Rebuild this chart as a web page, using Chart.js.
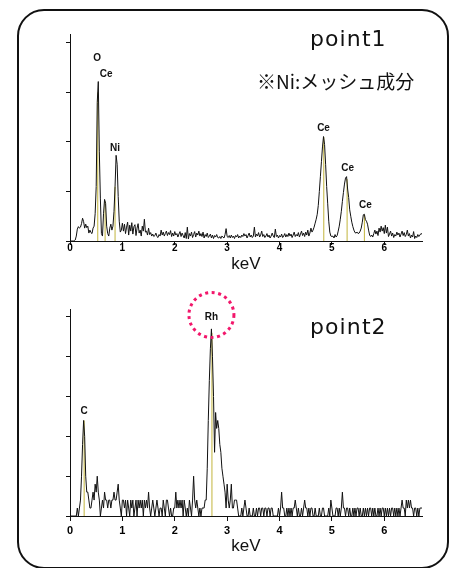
<!DOCTYPE html>
<html>
<head>
<meta charset="utf-8">
<script src="https://cdn.jsdelivr.net/npm/chart.js@4.4.1/dist/chart.umd.min.js"></script>
<style>
  html, body { margin: 0; padding: 0; background: #fff; }
  body { width: 454px; height: 568px; position: relative; overflow: hidden; }
  .frame { position: absolute; left: 17px; top: 9px; width: 432px; height: 560px;
           box-sizing: border-box; border: 2px solid #111; border-radius: 27px; }
  canvas { position: absolute; left: 0; }
  #c1 { top: 0; }
  #c2 { top: 280px; }
</style>
</head>
<body>
<div class="frame"></div>
<canvas id="c1" width="454" height="280"></canvas>
<canvas id="c2" width="454" height="288"></canvas>
<script>
// EDS spectra, one value per 0.02 keV channel
const energyStep = 0.02
const xMax = 6.72
const xTicks = [0, 1, 2, 3, 4, 5, 6]

// point1
const counts1 = [
  0, 0, 0, 0, 0, 0.2, 1.0, 2.4, 2.9, 2.6,
  2.8, 3.5, 4.6, 3.9, 2.6, 3.4, 2.7, 3.0, 1.6, 2.2,
  1.7, 1.5, 2.6, 3.0, 5.5, 11.0, 28.0, 32.2, 18.0, 8.5,
  1.5, 1.0, 5.5, 8.4, 7.6, 3.0, 1.5, 1.0, 2.6, 3.4,
  2.2, 3.0, 6.0, 11.0, 17.3, 15.5, 9.0, 4.0, 1.8, 2.2,
  3.6, 2.0, 3.4, 1.5, 2.8, 3.8, 1.2, 3.2, 2.0, 3.7,
  1.4, 2.9, 3.3, 1.1, 2.6, 3.5, 1.6, 2.2, 1.0, 3.0,
  2.0, 4.4, 1.8, 2.0, 1.2, 2.6, 1.3, 1.7, 1.0, 1.4,
  0.9, 1.1, 1.6, 0.9, 0.7, 1.3, 1.0, 2.2, 1.2, 1.8,
  1.0, 1.5, 2.0, 1.1, 1.7, 1.3, 2.1, 0.9, 1.6, 1.0,
  1.9, 1.2, 1.5, 0.8, 1.4, 1.9, 0.9, 1.6, 1.1, 0.6,
  1.7, 0.5, 2.8, 0.4, 1.5, 1.0, 1.8, 0.7, 1.3, 1.9,
  0.8, 1.6, 1.2, 2.0, 1.0, 1.5, 0.9, 1.8, 0.6, 1.3,
  0.9, 1.6, 0.7, 1.0, 1.4, 0.6, 1.2, 0.5, 1.1, 0.8,
  1.3, 0.7, 0.6, 0.9, 0.5, 1.0, 0.8, 0.6, 1.3, 2.5,
  0.9, 0.7, 1.1, 0.6, 1.2, 0.7, 1.0, 0.5, 1.1, 0.8,
  1.3, 0.6, 1.0, 0.7, 1.2, 0.9, 1.5, 1.0, 1.3, 0.6,
  1.1, 1.6, 0.8, 1.2, 0.7, 1.0, 2.8, 0.8, 1.4, 1.0,
  1.7, 0.8, 1.2, 2.0, 0.9, 1.3, 0.7, 1.0, 1.5, 0.8,
  1.2, 0.6, 1.0, 1.6, 1.0, 0.7, 2.4, 0.9, 1.2, 0.6,
  1.1, 0.8, 1.4, 0.7, 1.0, 1.5, 0.8, 1.3, 0.9, 1.6,
  1.0, 1.4, 0.7, 1.2, 1.8, 0.9, 1.3, 1.0, 1.7, 0.8,
  1.4, 2.0, 1.1, 1.6, 0.9, 1.8, 1.2, 2.2, 1.0, 1.6,
  2.6, 1.8, 2.2, 2.8, 3.6, 4.4, 5.4, 7.2, 10.0, 13.0,
  16.0, 19.0, 21.1, 19.5, 15.5, 11.0, 7.5, 4.0, 1.8, 1.0,
  0.9, 1.0, 0.6, 1.3, 0.8, 1.1, 2.0, 3.0, 4.4, 6.0,
  8.0, 9.8, 11.5, 12.7, 13.0, 10.5, 8.8, 6.3, 5.0, 3.8,
  2.9, 2.2, 1.7, 1.6, 1.8, 1.5, 1.6, 2.0, 2.6, 3.8,
  5.3, 5.4, 4.3, 4.0, 3.4, 2.2, 1.2, 0.9, 1.2, 0.8,
  1.5, 2.2, 1.4, 2.0, 1.1, 2.6, 1.8, 3.0, 2.0, 2.7,
  1.5, 3.2, 1.6, 2.8, 0.9, 1.4, 2.0, 1.0, 1.6, 0.7,
  1.3, 1.0, 1.8, 1.2, 1.6, 0.8, 1.4, 2.0, 1.1, 1.7,
  0.9, 1.3, 2.2, 1.0, 1.5, 0.6, 1.2, 0.8, 1.9, 0.5,
  1.0, 0.7, 1.3, 0.9, 1.2, 1.5, 1.4
]
const yMax1 = 41.8
const yTicks1 = [0, 10, 20, 30, 40]
const markerEnergy1 = [0.53, 0.67, 0.86, 4.845, 5.29, 5.62]
const markerHeight1 = [30.0, 8.0, 11.0, 21.0, 12.5, 5.3]
const peakText1 = ['O', 'Ce', 'Ni', 'Ce', 'Ce', 'Ce']
const peakEnergy1 = [0.52, 0.69, 0.86, 4.84, 5.30, 5.64]
const peakLevel1 = [37.0, 33.7, 18.8, 22.8, 14.7, 7.3]

// point2
const counts2 = [
  0, 0, 0, 0, 0, 0, 0, 1, 0, 1,
  2, 5, 9, 12, 10, 5, 3, 3, 2, 1,
  1, 2, 3, 2, 4, 3, 5, 3, 2, 0,
  1, 2, 1, 3, 2, 2, 1, 2, 2, 1,
  2, 2, 3, 2, 2, 3, 4, 2, 1, 0,
  2, 2, 1, 2, 0, 2, 1, 0, 2, 1,
  2, 0, 1, 2, 0, 2, 1, 2, 1, 2,
  0, 2, 1, 2, 1, 3, 1, 0, 1, 2,
  1, 0, 1, 2, 1, 0, 1, 1, 0, 2,
  1, 0, 2, 2, 1, 0, 1, 0, 0, 1,
  1, 3, 1, 2, 1, 2, 1, 2, 0, 2,
  1, 0, 1, 0, 2, 1, 0, 2, 5, 2,
  1, 2, 1, 0, 1, 0, 1, 1, 1, 2,
  2, 6, 12, 17, 21, 23.5, 20, 15, 8, 13,
  11, 12, 11, 9, 8, 6, 5, 4, 3, 1,
  4, 2, 1, 2, 4, 1, 1, 2, 2, 2,
  1, 0, 0, 0, 1, 0, 1, 2, 1, 0,
  0, 1, 0, 0, 0, 1, 0, 0, 1, 0,
  1, 1, 0, 1, 1, 0, 1, 1, 0, 1,
  1, 0, 1, 1, 0, 0, 0, 0, 0, 1,
  0, 1, 3, 1, 1, 0, 0, 1, 0, 1,
  0, 1, 0, 1, 1, 2, 1, 0, 1, 0,
  0, 1, 0, 1, 2, 1, 1, 0, 1, 0,
  1, 1, 0, 0, 1, 0, 0, 0, 1, 0,
  0, 1, 1, 0, 0, 0, 0, 1, 0, 2,
  1, 0, 0, 0, 1, 1, 0, 1, 0, 1,
  3, 1, 1, 0, 1, 1, 0, 1, 0, 0,
  1, 0, 1, 0, 1, 1, 0, 1, 0, 0,
  1, 0, 1, 0, 1, 0, 1, 1, 0, 1,
  0, 1, 0, 0, 1, 0, 1, 0, 1, 1,
  0, 1, 0, 1, 0, 1, 0, 1, 1, 0,
  1, 0, 1, 0, 1, 0, 1, 2, 1, 1,
  0, 2, 1, 2, 1, 2, 1, 1, 0, 1,
  1, 0, 1, 0, 1, 1, 1
]
const yMax2 = 26
const yTicks2 = [0, 5, 10, 15, 20, 25]
const markerEnergy2 = [0.27, 2.71]
const markerHeight2 = [12, 23.0]
const peakText2 = ['C', 'Rh']
const peakEnergy2 = [0.27, 2.70]
const peakLevel2 = [13.1, 25.0]

const FONT = '"Liberation Sans", Arial, sans-serif'

function channelPoints(values) {
  return values.map((v, i) => ({ x: i * energyStep, y: v }))
}

function markerPoints(energies, heights) {
  const pts = []
  energies.forEach((e, i) => {
    pts.push({ x: e, y: 0 }, { x: e, y: heights[i] }, { x: e, y: null })
  })
  return pts
}

// peak names, dashed ring and free text drawn on top of the plot
function overlay(spec) {
  return {
    id: 'overlay',
    afterDatasetsDraw(chart) {
      const { ctx, scales: { x, y } } = chart
      ctx.save()
      ctx.fillStyle = '#111'
      ctx.font = 'bold 10px ' + FONT
      ctx.textAlign = 'center'
      ctx.textBaseline = 'middle'
      spec.peakText.forEach((t, i) => {
        ctx.fillText(t, x.getPixelForValue(spec.peakEnergy[i]), y.getPixelForValue(spec.peakLevel[i]))
      })
      if (spec.ring) {
        const i = spec.ring.index
        ctx.beginPath()
        ctx.strokeStyle = '#f2176b'
        ctx.lineWidth = 3
        ctx.setLineDash([3, 3.6])
        ctx.arc(x.getPixelForValue(spec.peakEnergy[i]), y.getPixelForValue(spec.peakLevel[i]) - 2, 22.5, 0, Math.PI * 2)
        ctx.stroke()
      }
      ctx.textAlign = 'left'
      ctx.textBaseline = 'alphabetic'
      spec.notes.forEach(n => {
        ctx.font = n.font
        ctx.letterSpacing = n.spacing || '0px'
        ctx.fillText(n.text, n.x, n.y)
      })
      ctx.restore()
    }
  }
}

function makeChart(id, o) {
  return new Chart(document.getElementById(id), {
    type: 'line',
    data: {
      datasets: [{
        data: channelPoints(o.counts),
        borderColor: '#111',
        borderWidth: 1,
        pointRadius: 0,
        tension: 0
      }, {
        data: markerPoints(o.markerEnergy, o.markerHeight),
        borderColor: '#c2b43c',
        borderWidth: 1,
        pointRadius: 0,
        spanGaps: false
      }]
    },
    options: {
      responsive: false,
      animation: false,
      events: [],
      layout: { padding: { top: o.top, right: 32, left: 0, bottom: 0 } },
      plugins: { legend: { display: false }, tooltip: { enabled: false } },
      scales: {
        x: {
          type: 'linear',
          min: 0,
          max: xMax,
          afterBuildTicks: s => { s.ticks = xTicks.map(v => ({ value: v })) },
          afterFit: s => { s.height = o.xAxisHeight },
          border: { color: '#111', width: 1 },
          grid: { drawOnChartArea: false, tickLength: o.tickLen, color: '#111' },
          ticks: { color: '#000', padding: o.labelPad, maxRotation: 0,
                   font: { family: FONT, size: o.tickSize, weight: 'bold', lineHeight: 1 } },
          title: { display: true, text: 'keV', color: '#111',
                   font: { family: FONT, size: 17, lineHeight: 1 },
                   padding: { top: 0, bottom: o.titlePad } }
        },
        y: {
          min: 0,
          max: o.yMax,
          afterBuildTicks: s => { s.ticks = o.yTicks.map(v => ({ value: v })) },
          afterFit: s => { s.width = 70 },
          border: { color: '#111', width: 1 },
          grid: { drawOnChartArea: false, tickLength: 4, color: '#111' },
          ticks: { display: false }
        }
      }
    },
    plugins: [overlay(o)]
  })
}

makeChart('c1', {
  counts: counts1, markerEnergy: markerEnergy1, markerHeight: markerHeight1,
  peakText: peakText1, peakEnergy: peakEnergy1, peakLevel: peakLevel1,
  yMax: yMax1, yTicks: yTicks1,
  top: 34, xAxisHeight: 39, tickLen: 4, labelPad: -2, tickSize: 10, titlePad: 7,
  notes: [
    { text: 'point1', x: 310, y: 46, font: '22px "DejaVu Sans", sans-serif', spacing: '1.1px' },
    { text: '※Ni:メッシュ成分', x: 257, y: 89, font: '19px "Noto Sans CJK JP", sans-serif' }
  ]
})

makeChart('c2', {
  counts: counts2, markerEnergy: markerEnergy2, markerHeight: markerHeight2,
  peakText: peakText2, peakEnergy: peakEnergy2, peakLevel: peakLevel2,
  yMax: yMax2, yTicks: yTicks2,
  top: 29, xAxisHeight: 52, tickLen: 5, labelPad: 4, tickSize: 11, titlePad: 13,
  ring: { index: 1 },
  notes: [
    { text: 'point2', x: 310, y: 54, font: '22px "DejaVu Sans", sans-serif', spacing: '1.1px' }
  ]
})
</script>
</body>
</html>
